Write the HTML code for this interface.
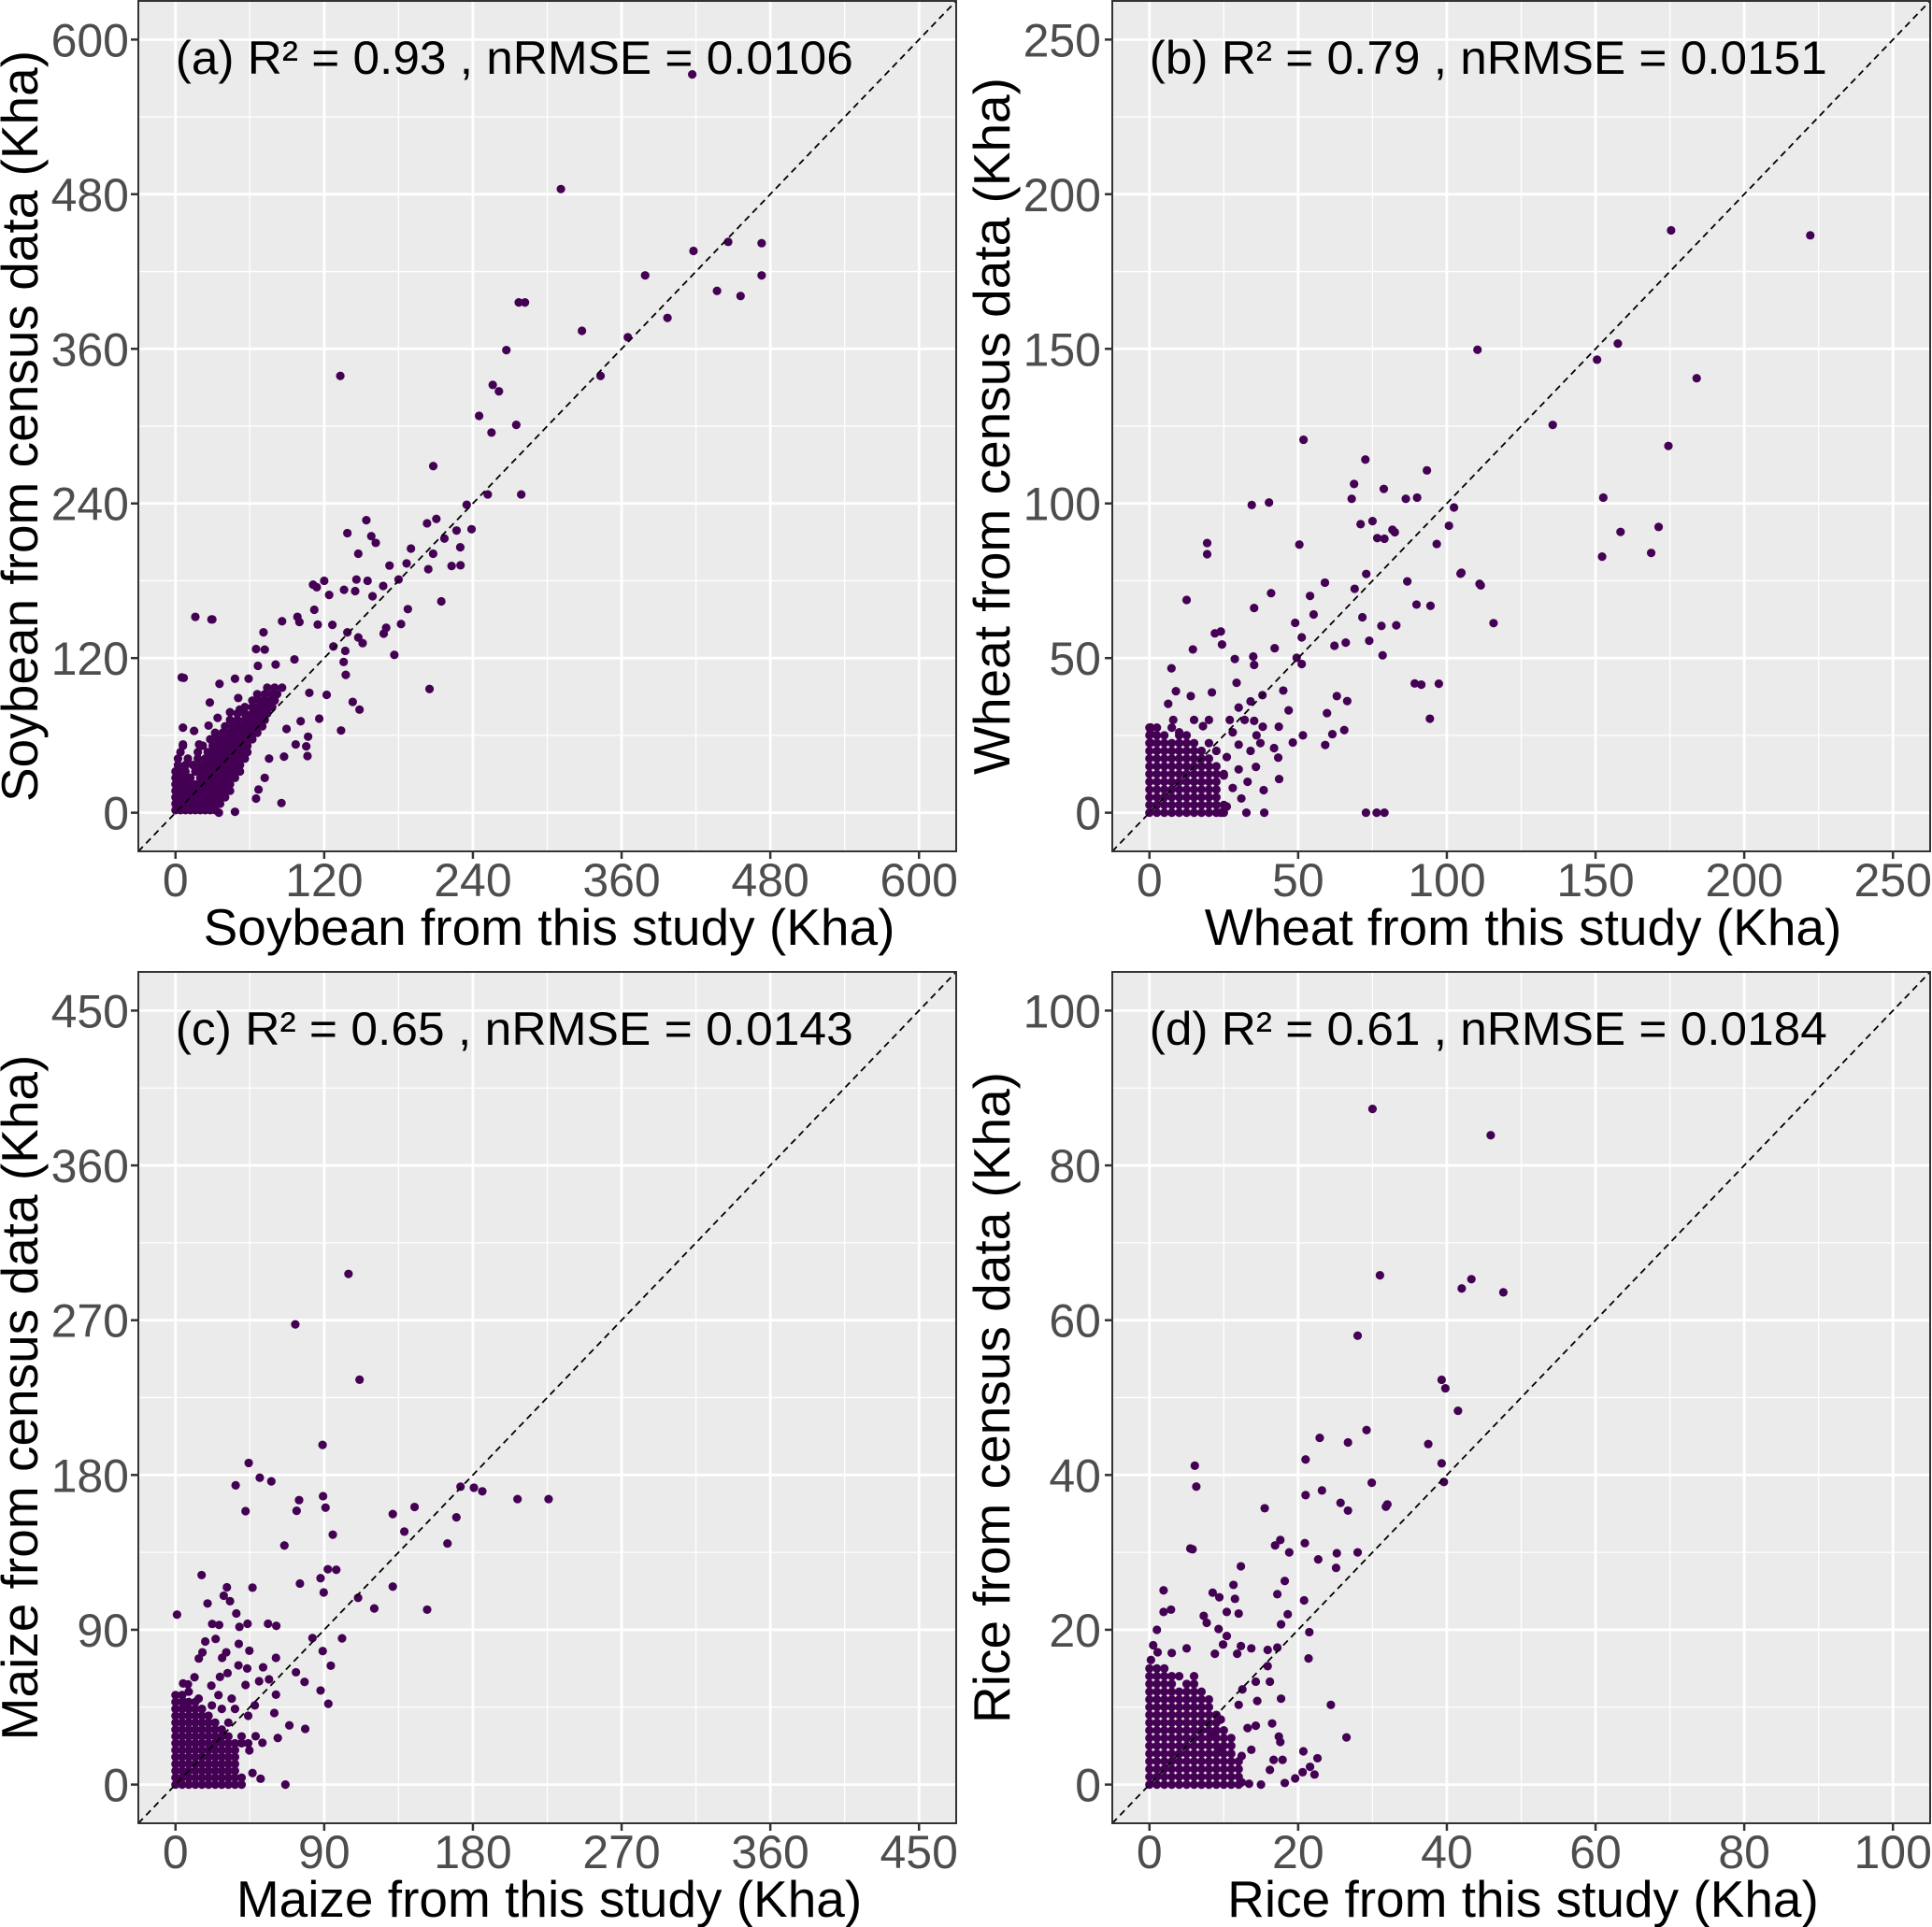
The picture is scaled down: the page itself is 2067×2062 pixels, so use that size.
<!DOCTYPE html>
<html><head><meta charset="utf-8"><style>
html,body{margin:0;padding:0;background:#fff;}
svg{display:block;font-family:"Liberation Sans",Arial,sans-serif;}
</style></head><body>
<svg id="chart" width="2067" height="2062" viewBox="0 0 2067 2062" xmlns="http://www.w3.org/2000/svg"></svg>
<script>
const ticksA = [0,120,240,360,480,600];
const ticksB = [0,50,100,150,200,250];
const ticksC = [0,90,180,270,360,450];
const ticksD = [0,20,40,60,80,100];
const titlesX = ["Soybean from this study (Kha)","Wheat from this study (Kha)","Maize from this study (Kha)","Rice from this study (Kha)"];
const titlesY = ["Soybean from census data (Kha)","Wheat from census data (Kha)","Maize from census data (Kha)","Rice from census data (Kha)"];
const annotations = ["(a) R² = 0.93 , nRMSE = 0.0106","(b) R² = 0.79 , nRMSE = 0.0151","(c) R² = 0.65 , nRMSE = 0.0143","(d) R² = 0.61 , nRMSE = 0.0184"];

const pointsA = [[417,573],[311,484],[133,339],[446,443],[473,442],[418,436],[379,417],[437,405],[456,401],[473,417],[397,384],[328,374],[365,369],[343,339],[277,396],[282,396],[267,359],[256,332],[261,327],[245,308],[255,295],[275,301],[279,247],[252,247],[208,269],[235,239],[205,96],[16,152],[29,150],[5,105],
[29.7,150],[6.6,104.6],[176.6,122.5],[133.6,63.8],[148.5,80],[143,86],[106.5,44],[85.5,7.5],[65,11],[72,27],[67,18],[48,0.7],[35,0],[107,59],[97,53],[105.5,51.5],[87.6,43.5],[75.5,42],[101,71],[89.6,65],[122,91.5],[116,73],[108,93],[137.4,107],[135.7,117],[137,125.6],[151,131.6],[147.5,136],[138.7,140],[127.4,129],[126.6,145.8],[114.8,146],[112,157.5],[114,175],[111,177],[120,180],[136,173],[124,169],[146,181],[155,180],[145,172],[159,168],[167.6,176],[172.7,191.8],[186.5,193.5],[190,205],[154,227],[138.7,217],[158,214.6],[161.6,209.4],[147.5,201],[203,224.6],[210.5,228],[226.8,219],[238.9,220],[217,212.8],[229.8,206],[207.9,201],[204,189],[222.8,191.5],[230,192],[214.5,164],[182,146.4],[187.5,158],[170,143.5],[168,139],[180,181],[71,140],[65,127],[72,126.6],[86,148.6],[98.4,152],[100,148],[96,119],[80.8,115],[66.5,114],[48,104],[35.5,100],[27.7,85.5],[50.6,89],[59,104],[6,66],[15,63.5],[26.7,67.6],[6,53],[19,53],[34,73.6],[44,78],[51.8,80]];
const clusterA = [
[2,[0,4,8,12,16,20,24,28,32]],
[7,[0,4,8,12,16,20,24,28,32,36]],
[12,[0,4,8,12,16,20,24,28,32,36,40]],
[17,[0,4,8,12,16,20,24,28,32,36,40,44]],
[22,[0,4,8,12,16,20,24,28,32,36,40,44]],
[27,[0,4,8,12,20,24,28,32,36,40,44,48]],
[32,[0,4,8,16,20,24,28,32,36,40,44,48,52]],
[37,[2,8,14,20,24,28,32,36,40,44,48,52]],
[42,[2,10,18,24,28,32,36,40,44,48,52,56]],
[47,[4,18,26,30,34,38,42,46,50,54,58]],
[52,[6,22,30,34,38,42,46,50,54,58]],
[57,[28,34,38,42,46,50,54,58,62]],
[62,[32,38,42,46,50,54,58,62,66]],
[67,[40,46,50,54,58,62,66,70]],
[72,[44,50,56,60,64,68,72]],
[77,[50,56,62,66,70,74]],
[82,[56,62,66,70,74,78]],
[87,[62,68,72,76,80]],
[92,[66,72,78,82]],
[97,[74,80,86]]];

const pointsB = [[175.4,188.3],[222.2,186.7],[110.3,149.7],[157.5,151.7],[150.5,146.5],[184,140.5],[135.6,125.4],[174.5,118.6],[152.6,101.9],[158.4,90.8],[171.2,92.4],[152.2,82.8],[168.7,84],[115.7,61.3],[102.4,98.7],[104.9,77.6],[111,74],[90,101.9],[86.2,101.5],[100.7,92.8],[93.3,110.7],[72.6,114.2],[51.8,120.6],[40.2,100.3],[34.4,99.5],[94.5,66.9],[75,94.3],[76.6,88.8],[68.8,106.3],[68,101.5],[78.8,104.7],[81.7,91.5],[72.8,0],[76.4,0],[79,0],
[19.4,87.2],[19.4,83.6],[50.4,86.7],[71,93.3],[79,88.6],[82.5,90.7],[96.6,86.9],[104.6,77.3],[111.4,73.5],[86.7,74.8],[89.8,67.3],[72.9,77.2],[69,72.4],[59,74.4],[54,70.1],[55.2,64.1],[71.6,63.2],[78,60.4],[83,60.6],[73.9,55.6],[78.4,50.9],[66,55],[62.2,54],[49,61.4],[51.2,56.7],[40.9,71],[35.2,66.2],[12.5,68.8],[14.6,52.8],[7.4,46.7],[22,58],[24,58.6],[24.4,54.4],[28.7,49.7],[34.9,50.5],[35.2,47.8],[42.1,53.2],[29.3,42],[49.5,50.1],[51.2,48.1],[89.2,41.8],[91.4,41.4],[97.3,41.7],[94.3,30.4],[63,37.7],[66.5,36.1],[59.7,32.2],[65.5,26.7],[61.5,25.4],[59.1,21.9],[51.6,25],[48.2,22.7],[43.5,27.8],[43.6,10.9],[38.4,7.3],[38.6,0],[32.6,0],[24,0],[30.9,4.6],[43.3,17.8],[35.8,14.8],[41.9,20.9],[37.3,22.5],[45,39.5],[35.2,29.7],[38.1,27.8],[46.8,33.1],[6.3,35.2],[8.9,39.3],[0.3,27.6],[0.3,25.6],[0.3,22.6],[21,38.9],[13.9,37.7],
[26,18],[28,26],[30,22],[18,28],[10,26],[20,30],[32,30],[25,12],[28,8],[26,2],[30,14],[34,20],[8,30],[15,30],[33,10],[36,25],[27,30],[30,34],[34,36],[38,38]];
const clusterB = [
[0,[0,2.5,5,7.5,10,12.5,15,17.5,20,22.5,25]],
[2.5,[0,2.5,5,7.5,10,12.5,15,17.5,20,22.5,25]],
[5,[0,2.5,5,7.5,10,12.5,15,17.5,20,22.5]],
[7.5,[0,2.5,5,7.5,10,12.5,15,17.5,20,22.5]],
[10,[0,2.5,5,7.5,10,12.5,15,17.5,20,22.5]],
[12.5,[0,2.5,5,7.5,10,12.5,15,17.5,20,22.5,25]],
[15,[0,2.5,5,7.5,10,12.5,15,17.5,20,22.5]],
[17.5,[0,2.5,5,7.5,10,12.5,15,17.5,20]],
[20,[0,2.5,5,7.5,10,12.5,15,17.5,22.5]],
[22.5,[0,2.5,5,7.5,10,12.5,15,20]],
[25,[0,2.5,5,10,12.5]],
[27.5,[0,2.5,7.5]]];

const pointsC = [[104.7,296.9],[72.5,267.6],[111.4,235.4],[89,197.5],[44.3,187],[51,178.4],[58,176.3],[36.4,174],[42.4,159],[74.8,165.4],[73.3,159.2],[89.3,167.7],[90.8,161],[95.2,145.3],[65.9,139],[131.5,157.3],[144.7,161.4],[138.5,147.1],[170,155.4],[172.5,173.2],[180.6,172.6],[185.7,170.5],[164.6,140.2],[207,166],[225.8,166],[92.2,125.2],[97.3,124.9],[87.8,120],[75.3,116.9],[89.7,111.7],[131.5,115.1],[110.5,108.6],[120.3,102.4],[152.3,101.7],[82.9,85.2],[100.8,85],[89.1,77.6],[94,69.1],[78.1,59.7],[72.9,65.3],[87.8,54.7],[92.5,47],[68.9,34.4],[78.5,32.4],[66.5,0],[61.9,27.1],[51.5,3.4],[0.9,98.8],[15.8,121.8],[31.1,114.7],[29.2,109.8],[33,106.6],[19.4,105.3],[46.6,114.5],[36.8,99.5],[22.2,93.4],[26.4,92.8],[38.7,91.7],[43.6,93.5],[56,93.5],[61,92.3],[18,83.2],[24.3,84.7],[38.3,81.8],[44.7,77.8],[16.3,76.9],[14.1,73.3],[28.2,73.7],[30.7,76.9],[38.1,69.3],[43.4,67.5],[53,68.2],[60.8,73.7],[31.5,64.8],[11.5,62.4],[4.6,58.8],[7.5,58.3],[21.7,57.5],[26.9,62.6],[42.4,57.9],[50.6,60.1],[56.6,61.2],[60.8,52.3],[59.8,41.6],[48.5,28.1],[52.6,24.3],[44.7,19.9],[46.6,6.7],
[5,48],[14,50],[22,46],[28,44],[36,44],[44,40],[4,52],[26,52],[34,50],[48,46],[8,54]];
const clusterC = [
[0,[0,4,8,12,16,20,24,28,32,36,40]],
[4,[0,4,8,12,16,20,24,28,32,36,40]],
[8,[0,4,8,12,16,20,24,28,32,36]],
[12,[0,4,8,12,16,20,24,28,32,36]],
[16,[0,4,8,12,16,20,24,28,32,36]],
[20,[0,4,8,12,16,20,24,28,32,36]],
[24,[0,4,8,12,16,20,24,28,32,36,40,44]],
[28,[0,4,8,12,16,20,24,28,32,40]],
[32,[0,4,8,12,16,20,24,28]],
[36,[0,4,8,12,16,20,24,32]],
[40,[0,4,8,12,16,20]],
[44,[0,4,8,12,16]],
[48,[0,4,8,12]],
[52,[0,4]]];

const pointsD = [[30,87.3],[45.9,83.9],[31,65.8],[43.3,65.3],[47.6,63.6],[42,64.1],[28,58],[39.3,52.3],[39.8,51.2],[41.5,48.3],[29.2,45.8],[22.9,44.8],[37.5,44],[39.3,41.5],[39.6,39.1],[26.7,44.2],[31.8,35.9],[21,42],[23.2,38],[29.9,39],[25.7,36.4],[6.1,41.2],[6.3,38.5],[5.5,30.5],
[21,37.4],[15.5,35.7],[26.7,35.4],[32,36.2],[5.8,30.4],[17.6,31.6],[16.9,30.9],[20.9,31.2],[18.8,30],[22.7,29.1],[25.2,29.9],[28,30],[25.1,28],[12.3,28.2],[18.2,26.3],[11.3,25.8],[17.2,24.6],[20.8,23.8],[1.9,25.1],[8.5,24.8],[9.4,24.2],[11.5,24],[1.9,22.3],[2.9,22.6],[7.3,21.8],[10.4,22.3],[12,22.1],[18.6,22],[17.7,20.7],[7.7,20.9],[9.3,20.1],[21.5,19.7],[10.4,19.2],[9.9,18.1],[12.3,17.9],[13.7,17.6],[15.9,17.4],[17.2,17.7],[21.4,16.3],[11.8,16.9],[8.8,16.9],[5,17.6],[1.1,17.1],[0.2,16.1],[15.9,15.3],[14.3,13.3],[16.2,13.3],[17.7,11.1],[14.5,10.8],[12.5,12.3],[12,10.3],[24.4,10.3],[26.5,6.1],[16.5,7.9],[14.3,7.6],[13.2,7.3],[17.4,6.2],[17.6,5.5],[13.7,4.5],[20.7,4.3],[22.6,3.4],[17.9,3.2],[16.7,3.2],[21.6,2.3],[22.2,1.3],[20.6,1.6],[19.6,0.8],[18.2,0.2],[16.2,1.9],[15,0],[13.4,0.1],[12.4,0.3],[9.6,8.4],[8.8,6.6],[9.3,4.7],[12.4,3.7],[0.5,18],[3,17],[1,20],[6,14]];
const clusterD = [
[0,[0,1,2,3,4,5,6,7,8,9,10,11,12]],
[1,[0,1,2,3,4,5,6,7,8,9,10,11,12]],
[2,[0,1,2,3,4,5,6,7,8,9,10,11,12]],
[3,[0,1,2,3,4,5,6,7,8,9,10,11,12]],
[4,[0,1,2,3,4,5,6,7,8,9,10,11]],
[5,[0,1,2,3,4,5,6,7,8,9,10,11]],
[6,[0,1,2,3,4,5,6,7,8,9,10,11]],
[7,[0,1,2,3,4,5,6,7,8,9,10]],
[8,[0,1,2,3,4,5,6,7,8,9]],
[9,[0,1,2,3,4,5,6,7,8,9]],
[10,[0,1,2,3,4,5,6,7,8]],
[11,[0,1,2,3,4,5,6,7,8]],
[12,[0,1,2,3,4,5,6,7]],
[13,[0,1,2,3,5,6]],
[14,[0,1,2,3,4]],
[15,[0,1,2]]];

const NS = "http://www.w3.org/2000/svg";
const svg = document.getElementById("chart");
function mk(tag, attrs, parent) {
  const e = document.createElementNS(NS, tag);
  for (const k in attrs) e.setAttribute(k, attrs[k]);
  (parent || svg).appendChild(e);
  return e;
}
function expand(pts, rows) {
  const out = pts.slice();
  rows.forEach(r => r[1].forEach(x => out.push([x, r[0]])));
  return out;
}

const panels = [
  {left:148, top:1, right:1023, bottom:911, ticks:ticksA, pts:expand(pointsA, clusterA), idx:0, tickRight:138, titleYx:40},
  {left:1190, top:1, right:2065, bottom:911, ticks:ticksB, pts:expand(pointsB, clusterB), idx:1, tickRight:1178, titleYx:1080},
  {left:148, top:1040, right:1023, bottom:1951, ticks:ticksC, pts:expand(pointsC, clusterC), idx:2, tickRight:138, titleYx:40},
  {left:1190, top:1040, right:2065, bottom:1951, ticks:ticksD, pts:expand(pointsD, clusterD), idx:3, tickRight:1178, titleYx:1080}
];
const names = ["a","b","c","d"];

panels.forEach(p => {
  const t = p.ticks;
  const max = t[t.length-1];
  const lo = -0.05*max, hi = 1.05*max;
  const sx = v => p.left + (v - lo)/(hi - lo)*(p.right - p.left);
  const sy = v => p.bottom - (v - lo)/(hi - lo)*(p.bottom - p.top);
  const g = mk("g", {});
  
  
  const bg = mk("rect", {x:p.left, y:p.top, width:p.right-p.left, height:p.bottom-p.top, fill:"#EBEBEB"}, g);
  
  
  for (let i=0;i<t.length-1;i++){
    const m = (t[i]+t[i+1])/2;
    const l1 = mk("line",{x1:sx(m),x2:sx(m),y1:p.top,y2:p.bottom,stroke:"#fff","stroke-width":1.3},g);
    
    
    const l2 = mk("line",{x1:p.left,x2:p.right,y1:sy(m),y2:sy(m),stroke:"#fff","stroke-width":1.3},g);
    
    
  }
  t.forEach(v => {
    const l1 = mk("line",{x1:sx(v),x2:sx(v),y1:p.top,y2:p.bottom,stroke:"#fff","stroke-width":2.8},g);
    
    
    const l2 = mk("line",{x1:p.left,x2:p.right,y1:sy(v),y2:sy(v),stroke:"#fff","stroke-width":2.8},g);
    
    
    const tx = mk("line",{x1:sx(v),x2:sx(v),y1:p.bottom,y2:p.bottom+8,stroke:"#333","stroke-width":2.5},g);
    
    
    const ty = mk("line",{x1:p.left-8,x2:p.left,y1:sy(v),y2:sy(v),stroke:"#333","stroke-width":2.5},g);
    
    
    const lx = mk("text",{x:sx(v),y:p.bottom+48,"text-anchor":"middle","font-size":50,fill:"#4D4D4D"},g);
    lx.textContent = v;
    
    
    const ly = mk("text",{x:p.tickRight,y:sy(v)+18,"text-anchor":"end","font-size":50,fill:"#4D4D4D"},g);
    ly.textContent = v;
    
    
  });
  p.pts.forEach(d => {
    const c = mk("circle",{cx:sx(d[0]),cy:sy(d[1]),r:4.6,fill:"#440154"},g);
    
    
  });
  const diag = mk("line",{x1:sx(lo),y1:sy(lo),x2:sx(hi),y2:sy(hi),stroke:"#000","stroke-width":1.8,"stroke-dasharray":"7,5"},g);
  
  
  const border = mk("rect",{x:p.left,y:p.top,width:p.right-p.left,height:p.bottom-p.top,fill:"none",stroke:"#333","stroke-width":2},g);
  
  
  const ann = mk("text",{x:sx(0),y:p.top+78,"font-size":50,fill:"#000",textLength:725,lengthAdjust:"spacingAndGlyphs"},g);
  ann.textContent = annotations[p.idx];
  
  
  const xt = mk("text",{x:(p.left+p.right)/2+2,y:p.bottom+100,"text-anchor":"middle","font-size":55,fill:"#000"},g);
  xt.textContent = titlesX[p.idx];
  
  
  const cy = (p.top+p.bottom)/2;
  const yt = mk("text",{x:0,y:0,"text-anchor":"middle","font-size":55,fill:"#000",transform:`translate(${p.titleYx},${cy}) rotate(-90)`},g);
  yt.textContent = titlesY[p.idx];
  
  
});
</script>
</body></html>
